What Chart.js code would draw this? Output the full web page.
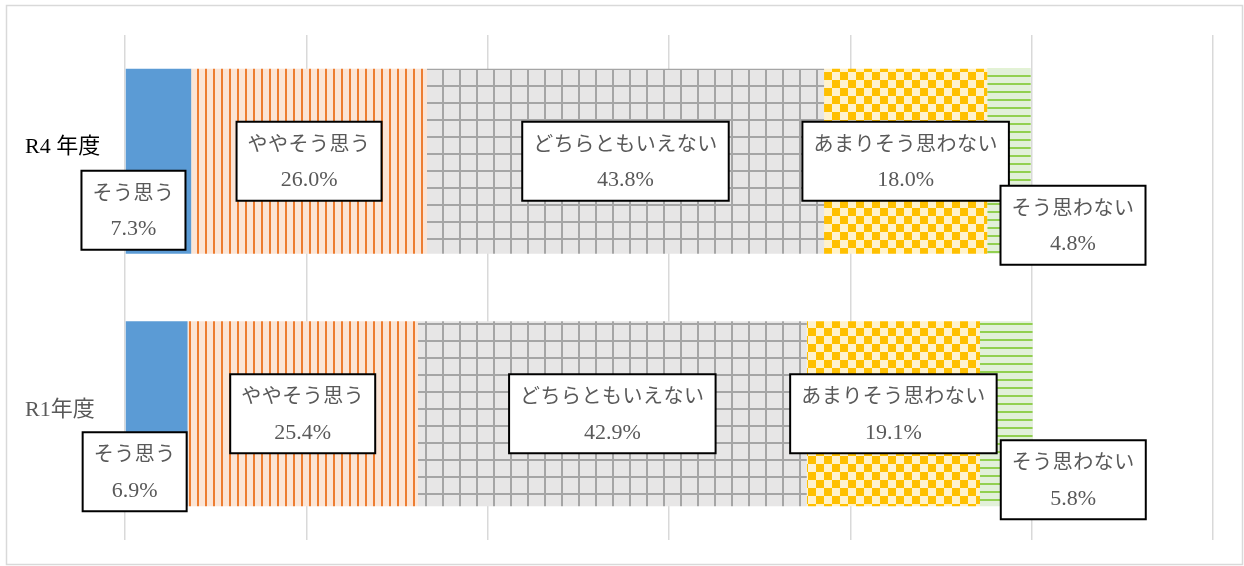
<!DOCTYPE html>
<html lang="ja">
<head>
<meta charset="utf-8">
<title>R4年度・R1年度</title>
<script src="https://cdn.jsdelivr.net/npm/chart.js@4.4.1/dist/chart.umd.min.js"></script>
<style>
  html, body { margin: 0; padding: 0; background: #fff; }
</style>
</head>
<body>
<canvas id="chart" width="1244" height="566"></canvas>
<script>
// survey years (rows) and answer categories (stacked segments)
const years = ['R4 年度', 'R1年度'];
const answers = ['そう思う', 'ややそう思う', 'どちらともいえない', 'あまりそう思わない', 'そう思わない'];
const r4Values = [7.3, 26.0, 43.8, 18.0, 4.8];
const r1Values = [6.9, 25.4, 42.9, 19.1, 5.8];
const xTicks = [0, 20, 40, 60, 80, 100, 120];

// where each callout box sits relative to its segment centre (px), [R4, R1]
const calloutShift = [
  [[-25, 49], [-22, 58]],
  [[0, 0], [0, 0]],
  [[0, 0], [0, 0]],
  [[0, 0], [0, 0]],
  [[64, 64], [67, 66]]
];
const yearLabelShift = [-14, -4];
const yearLabelColor = ['#000000', '#595959'];

const canvas = document.getElementById('chart');
const ctx = canvas.getContext('2d');

function tile(w, h, paint) {
  const c = document.createElement('canvas');
  c.width = w;
  c.height = h;
  paint(c.getContext('2d'));
  return ctx.createPattern(c, 'repeat');
}

const fills = [
  '#5B9BD5',
  tile(8, 8, g => {
    g.fillStyle = '#FBE5D6'; g.fillRect(0, 0, 8, 8);
    g.fillStyle = '#ED7D31'; g.fillRect(5, 0, 2, 8);
  }),
  tile(17, 17, g => {
    g.fillStyle = '#E7E6E6'; g.fillRect(0, 0, 17, 17);
    g.fillStyle = '#A5A5A5'; g.fillRect(0, 0, 17, 2); g.fillRect(0, 0, 2, 17);
  }),
  tile(16, 16, g => {
    g.fillStyle = '#FFF2CC'; g.fillRect(0, 0, 16, 16);
    g.fillStyle = '#FFC000'; g.fillRect(0, 0, 8, 8); g.fillRect(8, 8, 8, 8);
  }),
  tile(8, 8, g => {
    g.fillStyle = '#E2F0D9'; g.fillRect(0, 0, 8, 8);
    g.fillStyle = '#92D050'; g.fillRect(0, 3, 8, 2);
  })
];

const datasets = answers.map((name, i) => ({
  label: name,
  data: [r4Values[i], r1Values[i]],
  backgroundColor: fills[i],
  borderWidth: 0,
  categoryPercentage: 0.733,
  barPercentage: 1
}));

const frame = {
  id: 'frame',
  beforeDraw(chart) {
    const c = chart.ctx;
    c.save();
    c.fillStyle = '#fff';
    c.fillRect(0, 0, chart.width, chart.height);
    c.strokeStyle = '#D9D9D9';
    c.lineWidth = 1.5;
    c.strokeRect(6.5, 5.5, 1236, 559);
    c.restore();
  }
};

const jpFont = '20px "Noto Sans CJK JP"';
const numFont = '22px "Liberation Serif"';

const callouts = {
  id: 'callouts',
  afterDatasetsDraw(chart) {
    const c = chart.ctx;
    c.save();
    // year labels on the left
    const first = chart.getDatasetMeta(0).data;
    c.font = '22px "Liberation Serif", "Noto Sans CJK JP"';
    c.textAlign = 'left';
    c.textBaseline = 'middle';
    years.forEach((y, j) => {
      c.fillStyle = yearLabelColor[j];
      c.fillText(y, 25, first[j].y + yearLabelShift[j]);
    });

    c.textAlign = 'center';
    chart.data.datasets.forEach((ds, i) => {
      chart.getDatasetMeta(i).data.forEach((bar, j) => {
        const cx = (bar.x + bar.base) / 2 + calloutShift[i][j][0];
        const cy = bar.y + calloutShift[i][j][1];
        const line1 = ds.label;
        const line2 = ds.data[j].toFixed(1) + '%';
        c.letterSpacing = '0.5px';
        c.font = jpFont;
        const w1 = c.measureText(line1).width;
        c.letterSpacing = '0px';
        c.font = numFont;
        const w2 = c.measureText(line2).width;
        const w = Math.max(w1, w2) + 22;
        const h = 79;
        c.fillStyle = '#fff';
        c.fillRect(cx - w / 2, cy - h / 2, w, h);
        c.strokeStyle = '#000';
        c.lineWidth = 2;
        c.strokeRect(cx - w / 2, cy - h / 2, w, h);
        c.fillStyle = '#595959';
        c.letterSpacing = '0.5px';
        c.font = jpFont;
        c.fillText(line1, cx, cy - 18);
        c.letterSpacing = '0px';
        c.font = numFont;
        c.fillText(line2, cx, cy + 19);
      });
    });
    c.restore();
  }
};

new Chart(ctx, {
  type: 'bar',
  data: { labels: years, datasets: datasets },
  options: {
    indexAxis: 'y',
    responsive: false,
    devicePixelRatio: 1,
    animation: false,
    layout: { padding: { left: 125, right: 31, top: 35, bottom: 26 } },
    plugins: { legend: { display: false }, tooltip: { enabled: false } },
    scales: {
      x: {
        stacked: true,
        min: xTicks[0],
        max: xTicks[xTicks.length - 1],
        afterBuildTicks: axis => { axis.ticks = xTicks.map(v => ({ value: v })); },
        ticks: { display: false },
        grid: { color: '#D9D9D9', lineWidth: 1.5, drawTicks: false },
        border: { display: false }
      },
      y: { stacked: true, display: false }
    }
  },
  plugins: [frame, callouts]
});
</script>
</body>
</html>
